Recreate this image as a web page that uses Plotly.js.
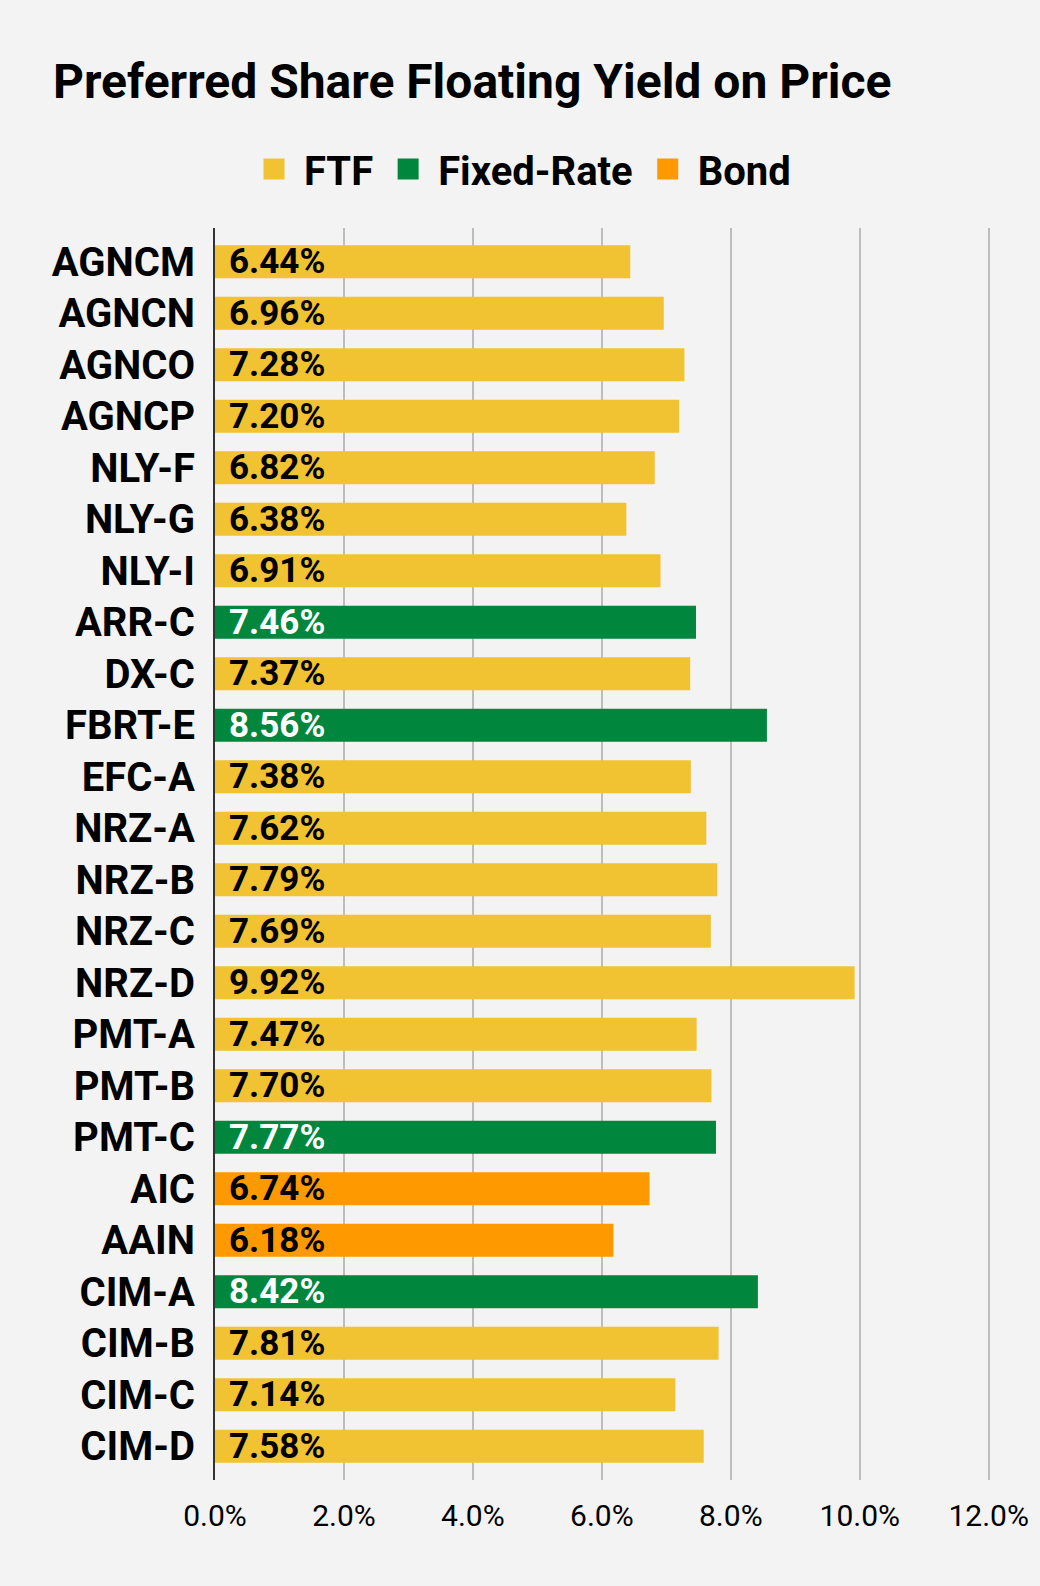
<!DOCTYPE html>
<html>
<head>
<meta charset="utf-8">
<script src="https://cdn.plot.ly/plotly-3.0.1.min.js"></script>
<style>
  html, body { margin: 0; padding: 0; background: #f3f3f3; }
  #myPlot { width: 1040px; height: 1586px; }
</style>
</head>
<body>
<div id="myPlot"></div>
<script>
// preferred shares, top to bottom
let tickers = ["AGNCM", "AGNCN", "AGNCO", "AGNCP", "NLY-F", "NLY-G", "NLY-I", "ARR-C",
  "DX-C", "FBRT-E", "EFC-A", "NRZ-A", "NRZ-B", "NRZ-C", "NRZ-D", "PMT-A", "PMT-B",
  "PMT-C", "AIC", "AAIN", "CIM-A", "CIM-B", "CIM-C", "CIM-D"];
let yields = [6.44, 6.96, 7.28, 7.20, 6.82, 6.38, 6.91, 7.46, 7.37, 8.56, 7.38, 7.62,
  7.79, 7.69, 9.92, 7.47, 7.70, 7.77, 6.74, 6.18, 8.42, 7.81, 7.14, 7.58];
let kinds = ["FTF", "FTF", "FTF", "FTF", "FTF", "FTF", "FTF", "Fixed-Rate", "FTF",
  "Fixed-Rate", "FTF", "FTF", "FTF", "FTF", "FTF", "FTF", "FTF", "Fixed-Rate", "Bond",
  "Bond", "Fixed-Rate", "FTF", "FTF", "FTF"];

let series = ["FTF", "Fixed-Rate", "Bond"];
let colors = { "FTF": "#f1c232", "Fixed-Rate": "#00873d", "Bond": "#ff9900" };
let labelColors = { "FTF": "#000000", "Fixed-Rate": "#ffffff", "Bond": "#000000" };

let data = [];
for (let s = 0; s < series.length; s++) {
  let x = [];
  let y = [];
  for (let i = 0; i < tickers.length; i++) {
    if (kinds[i] == series[s]) {
      x.push(yields[i]);
      y.push(tickers[i]);
    }
  }
  data.push({
    type: "bar",
    orientation: "h",
    name: series[s],
    x: x,
    y: y,
    marker: { color: colors[series[s]] },
    showlegend: false,
    hoverinfo: "x+y"
  });
}
// legend entries only (bigger swatches than the bar legend gives)
for (let s = 0; s < series.length; s++) {
  data.push({
    type: "scatter",
    mode: "markers",
    name: series[s],
    x: [null],
    y: [null],
    marker: { symbol: "square", size: 16, color: colors[series[s]],
      line: { color: colors[series[s]], width: 5 } },
    hoverinfo: "skip"
  });
}

// value labels sit at the bar base
let notes = [];
for (let i = 0; i < tickers.length; i++) {
  notes.push({
    x: 0,
    y: tickers[i],
    xref: "x",
    yref: "y",
    text: yields[i].toFixed(2) + "%",
    showarrow: false,
    xanchor: "left",
    xshift: 12,
    font: { family: "Roboto, sans-serif", size: 35, color: labelColors[kinds[i]], weight: "bold" }
  });
}

let layout = {
  width: 1040,
  height: 1586,
  paper_bgcolor: "#f3f3f3",
  plot_bgcolor: "#f3f3f3",
  margin: { l: 215, r: 50, t: 228, b: 106 },
  barmode: "overlay",
  bargap: 0.36,
  font: { family: "Roboto, sans-serif", color: "#000000" },
  title: {
    text: "<b>Preferred Share Floating Yield on Price</b>",
    font: { family: "Roboto, sans-serif", size: 48, color: "#000000" },
    xref: "container",
    yref: "container",
    x: 0.051,
    xanchor: "left",
    y: 1 - 81 / 1586,
    yanchor: "middle"
  },
  showlegend: true,
  legend: {
    orientation: "h",
    xref: "container",
    yref: "container",
    x: 0.5,
    xanchor: "center",
    y: 1 - 169 / 1586,
    yanchor: "middle",
    font: { family: "Roboto, sans-serif", size: 40, color: "#000000", weight: "bold" },
    itemwidth: 50,
    bgcolor: "rgba(0,0,0,0)"
  },
  xaxis: {
    range: [0, 12.02],
    dtick: 2,
    tick0: 0,
    tickformat: ".1f",
    ticksuffix: "%",
    showgrid: true,
    gridcolor: "#bdbdbd",
    gridwidth: 2,
    zeroline: false,
    showline: false,
    ticks: "",
    ticklabelstandoff: 15,
    tickfont: { family: "Roboto, sans-serif", size: 30, color: "#000000" },
    fixedrange: true
  },
  yaxis: {
    type: "category",
    categoryorder: "array",
    categoryarray: tickers,
    range: [23.655, -0.655],
    showgrid: false,
    zeroline: false,
    showline: true,
    linecolor: "#333333",
    linewidth: 2,
    ticks: "",
    ticklabelstandoff: 10,
    tickfont: { family: "Roboto, sans-serif", size: 40, color: "#000000", weight: "bold" },
    fixedrange: true
  },
  annotations: notes
};

Plotly.newPlot("myPlot", data, layout, { displayModeBar: false, staticPlot: true });
</script>
</body>
</html>
